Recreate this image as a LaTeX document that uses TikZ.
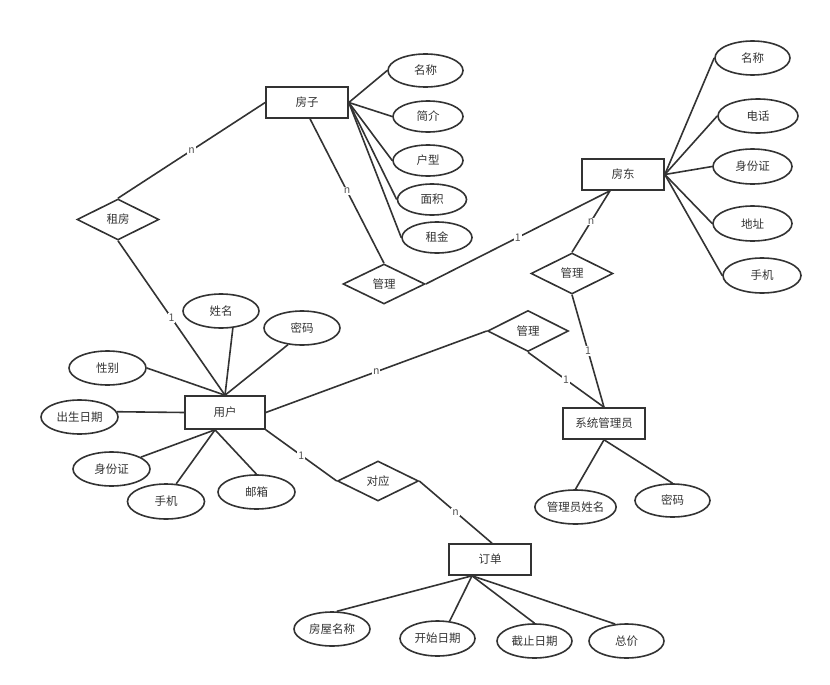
\documentclass[tikz,border=0pt]{standalone}
\usepackage{fontspec}
\setmainfont{Noto Sans CJK SC}
\usetikzlibrary{shapes.geometric}
\definecolor{ln}{HTML}{333333}
\definecolor{lb}{HTML}{555555}
\begin{document}
\begin{tikzpicture}[x=1pt,y=-1pt,
  base/.style={draw=ln, line width=1.6pt, inner sep=0pt, text=ln, font=\fontsize{11.5}{13}\selectfont},
  ent/.style={base, rectangle, minimum width=82pt, minimum height=31pt},
  rel/.style={base, diamond, minimum width=82pt, minimum height=41pt},
  attr/.style={base, ellipse, minimum width=76pt, minimum height=34pt},
  sm/.style={minimum width=70pt, minimum height=31pt},
  con/.style={draw=ln, line width=1.6pt},
  card/.style={fill=white, text=lb, inner sep=1pt, font=\fontsize{10.5}{12}\selectfont}
]
\useasboundingbox (0,0) rectangle (830,685);
% entities
\node[ent] (fz) at (307,102.5) {房子};
\node[ent] (fd) at (623,174.5) {房东};
\node[ent, minimum width=80pt, minimum height=33pt] (yh) at (225,412.5) {用户};
\node[ent] (gly) at (604,423.5) {系统管理员};
\node[ent] (dd) at (490,559.5) {订单};
% relations
\node[rel] (zf) at (118,219.5) {租房};
\node[rel, minimum height=40pt] (gl1) at (384,284) {管理};
\node[rel] (gl2) at (572,273.5) {管理};
\node[rel, minimum width=81pt] (gl3) at (528,331) {管理};
\node[rel, minimum width=81pt, minimum height=40pt] (dy) at (378,481) {对应};
% house attributes
\node[attr, minimum width=75pt, minimum height=33pt] (fzmc) at (425.5,70.5) {名称};
\node[attr, sm] (fzjj) at (428,116.5) {简介};
\node[attr, sm] (fzhx) at (428,160.5) {户型};
\node[attr, sm, minimum width=69pt] (fzmj) at (432,199.5) {面积};
\node[attr, sm] (fzzj) at (437,237.5) {租金};
% landlord attributes
\node[attr, minimum width=75pt] (fdmc) at (752.5,58) {名称};
\node[attr, minimum width=80pt] (fddh) at (758,116) {电话};
\node[attr, minimum width=79pt, minimum height=35pt] (fdsfz) at (752.5,166.5) {身份证};
\node[attr, minimum width=79pt, minimum height=35pt] (fddz) at (752.5,223.5) {地址};
\node[attr, minimum width=78pt, minimum height=35pt] (fdsj) at (762,275.5) {手机};
% user attributes
\node[attr] (xm) at (221,311) {姓名};
\node[attr] (mm) at (302,328) {密码};
\node[attr, minimum width=77pt] (xb) at (107.5,368) {性别};
\node[attr, minimum width=77pt] (cs) at (79.5,417) {出生日期};
\node[attr, minimum width=77pt] (ysfz) at (111.5,469) {身份证};
\node[attr, minimum width=77pt, minimum height=35pt] (ysj) at (166,501.5) {手机};
\node[attr, minimum width=77pt] (yx) at (256.5,492) {邮箱};
% admin attributes
\node[attr, minimum width=75pt] (gxm) at (575.5,507) {管理员姓名};
\node[attr, minimum width=75pt, minimum height=33pt] (gmm) at (672.5,500.5) {密码};
% order attributes
\node[attr] (fwmc) at (332,629) {房屋名称};
\node[attr, minimum width=75pt, minimum height=35pt] (ksrq) at (437.5,638.5) {开始日期};
\node[attr, minimum width=75pt] (jzrq) at (534.5,641) {截止日期};
\node[attr, minimum width=75pt] (zj) at (626.5,641) {总价};
% hub points
\coordinate (yhb) at ([xshift=-10pt]yh.south);
\coordinate (fzb) at ([xshift=3pt]fz.south);
\coordinate (fdb) at ([xshift=-13pt]fd.south);
\coordinate (ddb) at ([xshift=-18pt]dd.south);
\coordinate (ddt) at ([xshift=2pt]dd.north);
% attribute connectors
\foreach \a in {fzmc,fzjj,fzhx,fzmj,fzzj} \draw[con] (fz.east) -- (\a.west);
\foreach \a in {fdmc,fddh,fdsfz,fddz,fdsj} \draw[con] (fd.east) -- (\a.west);
\draw[con] (yh.north) -- (xm.-55);
\draw[con] (yh.north) -- (mm.-130);
\draw[con] (yh.north) -- (xb.east);
\draw[con] (yh.west) -- (cs.8);
\draw[con] (yhb) -- (ysfz.22);
\draw[con] (yhb) -- (ysj.60);
\draw[con] (yhb) -- (yx.north);
\draw[con] (gly.south) -- (gxm.north);
\draw[con] (gly.south) -- (gmm.north);
\draw[con] (ddb) -- (fwmc.75);
\draw[con] (ddb) -- (ksrq.55);
\draw[con] (ddb) -- (jzrq.north);
\draw[con] (ddb) -- (zj.124);
% relation connectors
\draw[con] (zf.north) -- node[card]{n} (fz.west);
\draw[con] (zf.south) -- node[card]{1} (yh.north);
\draw[con] (fzb) -- node[card]{n} (gl1.north);
\draw[con] (gl1.east) -- node[card]{1} (fdb);
\draw[con] (fdb) -- node[card]{n} (gl2.north);
\draw[con] (gl2.south) -- node[card]{1} (gly.north);
\draw[con] (yh.east) -- node[card]{n} (gl3.west);
\draw[con] (gl3.south) -- node[card]{1} (gly.north);
\draw[con] (yh.south east) -- node[card]{1} (dy.west);
\draw[con] (dy.east) -- node[card]{n} (ddt);
\end{tikzpicture}
\end{document}
